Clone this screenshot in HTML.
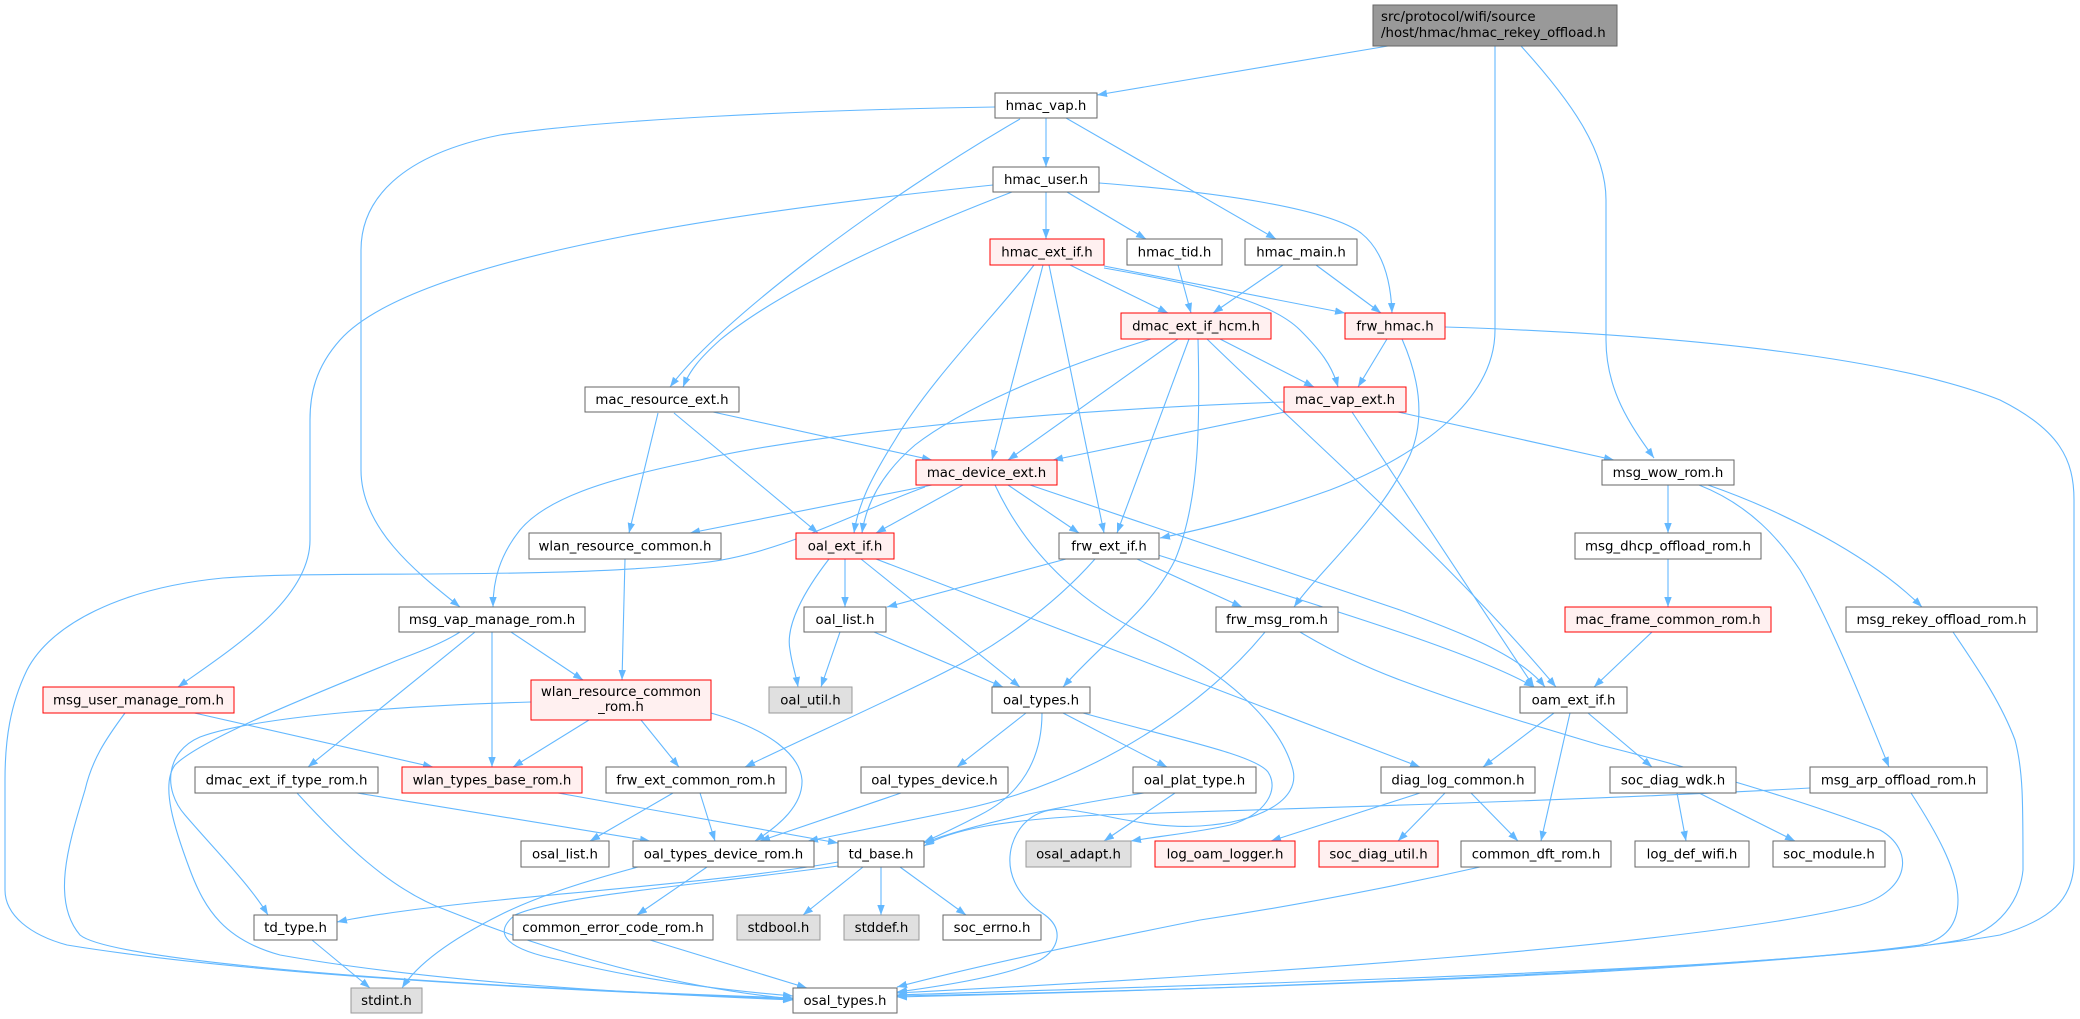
<!DOCTYPE html>
<html><head><meta charset="utf-8"><style>
html,body{margin:0;padding:0;background:#fff;}
svg{display:block;}
text{font-family:"DejaVu Sans","Liberation Sans",sans-serif;font-size:13.33px;fill:#000;}
.n{fill:#fff;stroke:#666;stroke-width:1;}
.r{fill:#fff0f0;stroke:#ff0000;stroke-width:1;}
.g{fill:#e0e0e0;stroke:#999;stroke-width:1;}
.t{fill:#999;stroke:#666;stroke-width:1;}
.e path{fill:none;stroke:#63b8ff;stroke-width:1.1;marker-end:url(#a);}
</style></head><body>
<svg width="2080" height="1019" viewBox="0 0 2080 1019" xmlns="http://www.w3.org/2000/svg">
<defs><marker id="a" markerWidth="11" markerHeight="8" refX="10" refY="4" orient="auto" markerUnits="userSpaceOnUse"><path d="M0,0.3 L10,4 L0,7.7 z" fill="#63b8ff" stroke="none"/></marker></defs>
<rect width="2080" height="1019" fill="#fff"/>
<g class="e">
<path d="M1388,46 L1097,95"/>
<path d="M1495,46 L1495,330 C1495,400 1420,455 1330,490 C1260,515 1200,530 1160,538"/>
<path d="M1521,46 C1570,100 1606,150 1606,200 L1606,340 C1606,390 1630,425 1654,458"/>
<path d="M1046,118 L1046,167"/>
<path d="M1066,118 L1276,239"/>
<path d="M1020,119 C880,200 720,320 670,387"/>
<path d="M995,107 C800,110 600,120 500,135 C400,155 361,200 361,250 L361,470 C361,530 420,575 460,607"/>
<path d="M1046,192 L1046,239"/>
<path d="M1067,192 L1146,239"/>
<path d="M1099,183 C1230,193 1330,210 1361,233 C1385,252 1391,285 1392,313"/>
<path d="M1012,192 C900,235 780,290 720,340 C700,358 690,370 683,387"/>
<path d="M993,185 C800,205 420,250 340,340 C315,368 310,395 310,420 L310,540 C310,600 230,650 178,687"/>
<path d="M1070,265 L1168,313"/>
<path d="M1104,266 L1345,313"/>
<path d="M1104,268 C1200,285 1270,300 1300,330 C1320,350 1332,365 1338,387"/>
<path d="M1043,265 L992,460"/>
<path d="M1049,265 L1104,533"/>
<path d="M1034,265 C1000,310 930,380 895,440 C870,480 858,505 854,533"/>
<path d="M1220,339 L1314,387"/>
<path d="M1178,339 L1008,460"/>
<path d="M1151,339 C1050,370 960,410 915,445 C880,475 866,505 862,533"/>
<path d="M1189,339 L1117,533"/>
<path d="M1198,339 C1200,420 1200,500 1175,560 C1150,610 1105,640 1063,687"/>
<path d="M1207,339 C1300,430 1450,560 1556,687"/>
<path d="M1285,412 L1053,460"/>
<path d="M1284,402 C1000,412 780,440 700,460 C600,480 545,500 520,530 C500,555 493,580 493,607"/>
<path d="M1398,412 L1614,460"/>
<path d="M1352,412 L1534,687"/>
<path d="M932,485 L690,533"/>
<path d="M963,485 L876,533"/>
<path d="M1008,485 L1079,533"/>
<path d="M1030,485 L1400,610 C1460,632 1520,655 1545,687"/>
<path d="M925,487 C860,510 780,555 700,563 C560,580 320,570 223,578 C120,588 50,625 27,670 C10,705 5,740 5,780 L5,890 C5,915 30,935 67,945 C250,975 550,990 793,999"/>
<path d="M995,485 C1030,560 1090,610 1157,640 C1220,670 1280,720 1293,770 C1300,800 1260,822 1200,826 C1150,829 1110,815 1070,810 C1040,806 1020,820 1012,845 C1005,870 1015,895 1045,915 C1065,930 1058,950 1040,960 C1010,975 950,985 897,992"/>
<path d="M1668,485 L1668,533"/>
<path d="M1708,485 C1780,510 1870,555 1922,607"/>
<path d="M1699,485 C1750,505 1780,540 1800,570 C1830,620 1870,720 1889,767"/>
<path d="M1668,559 L1668,607"/>
<path d="M1652,632 L1594,687"/>
<path d="M1953,632 C1975,665 2000,700 2015,740 C2023,770 2023,800 2023,870 C2020,900 2000,930 1960,940 C1800,970 1200,985 897,995"/>
<path d="M1445,327 C1700,335 1900,360 2000,400 C2060,430 2074,460 2074,500 L2074,860 C2074,900 2050,920 2000,935 C1800,970 1200,990 897,997"/>
<path d="M1387,339 L1358,387"/>
<path d="M1402,339 C1420,380 1425,420 1410,455 C1380,520 1320,570 1294,607"/>
<path d="M1178,265 L1191,313"/>
<path d="M1283,265 L1213,313"/>
<path d="M1316,265 L1381,313"/>
<path d="M713,412 L932,460"/>
<path d="M658,413 L629,533"/>
<path d="M674,413 L818,533"/>
<path d="M625,559 L622,680"/>
<path d="M845,559 L845,607"/>
<path d="M829,559 C805,590 785,625 790,650 C792,665 796,675 798,687"/>
<path d="M861,559 L1020,687"/>
<path d="M876,559 L1420,767"/>
<path d="M1066,559 L887,607"/>
<path d="M1137,559 L1242,607"/>
<path d="M1158,555 C1300,600 1470,650 1534,687"/>
<path d="M1095,559 C1050,610 990,650 945,672 C880,705 800,740 745,767"/>
<path d="M1265,632 C1210,700 1100,780 960,810 L808,841"/>
<path d="M1300,632 C1330,650 1360,665 1400,680 C1480,710 1550,730 1600,745 C1700,770 1800,800 1880,830 C1915,850 1910,890 1860,905 C1700,945 1250,975 897,993"/>
<path d="M840,632 L821,687"/>
<path d="M874,632 L1003,687"/>
<path d="M511,632 L583,680"/>
<path d="M492,632 L492,767"/>
<path d="M475,632 L308,767"/>
<path d="M460,632 C440,645 410,655 393,662 C300,700 200,740 175,765 C160,785 175,830 190,870 C205,910 225,940 280,955 C420,980 600,992 793,1000"/>
<path d="M589,720 L513,767"/>
<path d="M641,720 L679,767"/>
<path d="M531,702 C420,705 260,715 200,737 C165,752 163,790 185,815 C215,850 250,885 268,915"/>
<path d="M711,713 C770,730 800,755 802,780 C803,805 780,825 755,841"/>
<path d="M190,712 L433,767"/>
<path d="M125,713 C105,740 92,760 85,790 C70,840 50,900 80,935 C110,960 400,985 793,998"/>
<path d="M357,793 L650,841"/>
<path d="M297,793 C340,840 390,890 446,910 C520,940 650,985 793,999"/>
<path d="M558,793 L838,843"/>
<path d="M673,793 L590,841"/>
<path d="M700,793 L715,841"/>
<path d="M901,793 L760,841"/>
<path d="M1026,713 L957,767"/>
<path d="M1063,713 L1167,767"/>
<path d="M1042,713 C1042,760 1020,795 980,815 C955,828 940,835 924,842"/>
<path d="M1083,713 C1180,740 1255,755 1268,772 C1280,790 1265,815 1230,825 C1200,832 1160,836 1131,841"/>
<path d="M1175,793 L1104,841"/>
<path d="M1144,793 C1050,808 970,825 924,843"/>
<path d="M1810,788 C1600,800 1300,808 1100,815 C1000,820 950,830 924,846"/>
<path d="M838,862 C750,878 600,890 500,900 C420,908 370,915 337,922"/>
<path d="M838,866 C700,885 560,895 515,915 C490,935 510,950 560,960 C640,980 720,990 793,996"/>
<path d="M638,867 C590,880 540,895 500,915 C460,935 420,960 402,988"/>
<path d="M863,867 L803,915"/>
<path d="M881,867 L881,915"/>
<path d="M900,867 L966,915"/>
<path d="M312,940 L370,988"/>
<path d="M707,867 L637,915"/>
<path d="M650,940 L807,988"/>
<path d="M1480,867 C1400,885 1300,905 1200,920 C1100,940 980,965 897,987"/>
<path d="M1911,793 C1935,830 1958,870 1958,900 C1958,925 1945,940 1920,945 C1700,975 1200,990 897,996"/>
<path d="M1554,713 L1483,767"/>
<path d="M1570,713 L1541,841"/>
<path d="M1588,713 L1652,767"/>
<path d="M1420,793 L1271,841"/>
<path d="M1445,793 L1398,841"/>
<path d="M1471,793 L1518,841"/>
<path d="M1677,793 L1686,841"/>
<path d="M1699,793 L1795,841"/>
</g>
<g>
<rect class="t" x="1373" y="5" width="244" height="41"/>
<text x="1381" y="21">src/protocol/wifi/source</text>
<text x="1381" y="37">/host/hmac/hmac_rekey_offload.h</text>
</g>
<g text-anchor="middle">
<rect class="n" x="995" y="93" width="102" height="25"/><text x="1046" y="110">hmac_vap.h</text>
<rect class="n" x="993" y="167" width="106" height="25"/><text x="1046" y="184">hmac_user.h</text>
<rect class="r" x="990" y="239" width="114" height="26"/><text x="1047" y="256.5">hmac_ext_if.h</text>
<rect class="n" x="1127" y="239" width="95" height="26"/><text x="1174.5" y="256.5">hmac_tid.h</text>
<rect class="n" x="1245" y="239" width="112" height="26"/><text x="1301" y="256.5">hmac_main.h</text>
<rect class="r" x="1121" y="313" width="150" height="26"/><text x="1196" y="330.5">dmac_ext_if_hcm.h</text>
<rect class="r" x="1345" y="313" width="100" height="26"/><text x="1395" y="330.5">frw_hmac.h</text>
<rect class="n" x="585" y="387" width="154" height="25"/><text x="662" y="404">mac_resource_ext.h</text>
<rect class="r" x="1284" y="387" width="122" height="25"/><text x="1345" y="404">mac_vap_ext.h</text>
<rect class="r" x="916" y="460" width="141" height="25"/><text x="986.5" y="477">mac_device_ext.h</text>
<rect class="n" x="1602" y="460" width="132" height="25"/><text x="1668" y="477">msg_wow_rom.h</text>
<rect class="n" x="529" y="533" width="192" height="26"/><text x="625" y="550.5">wlan_resource_common.h</text>
<rect class="r" x="796" y="533" width="98" height="26"/><text x="845" y="550.5">oal_ext_if.h</text>
<rect class="n" x="1059" y="533" width="100" height="26"/><text x="1109" y="550.5">frw_ext_if.h</text>
<rect class="n" x="1575" y="533" width="186" height="26"/><text x="1668" y="550.5">msg_dhcp_offload_rom.h</text>
<rect class="n" x="399" y="607" width="186" height="25"/><text x="492" y="624">msg_vap_manage_rom.h</text>
<rect class="n" x="804" y="607" width="82" height="25"/><text x="845" y="624">oal_list.h</text>
<rect class="n" x="1216" y="607" width="122" height="25"/><text x="1277" y="624">frw_msg_rom.h</text>
<rect class="r" x="1565" y="607" width="206" height="25"/><text x="1668" y="624">mac_frame_common_rom.h</text>
<rect class="n" x="1846" y="607" width="191" height="25"/><text x="1941.5" y="624">msg_rekey_offload_rom.h</text>
<rect class="r" x="43" y="687" width="191" height="26"/><text x="138.5" y="704.5">msg_user_manage_rom.h</text>
<rect class="r" x="531" y="680" width="180" height="40"/><text x="621" y="696">wlan_resource_common</text><text x="621" y="711">_rom.h</text>
<rect class="g" x="769" y="687" width="83" height="26"/><text x="810.5" y="704.5">oal_util.h</text>
<rect class="n" x="992" y="687" width="98" height="26"/><text x="1041" y="704.5">oal_types.h</text>
<rect class="n" x="1520" y="687" width="107" height="26"/><text x="1573.5" y="704.5">oam_ext_if.h</text>
<rect class="n" x="195" y="767" width="183" height="26"/><text x="286.5" y="784.5">dmac_ext_if_type_rom.h</text>
<rect class="r" x="402" y="767" width="180" height="26"/><text x="492" y="784.5">wlan_types_base_rom.h</text>
<rect class="n" x="606" y="767" width="180" height="26"/><text x="696" y="784.5">frw_ext_common_rom.h</text>
<rect class="n" x="861" y="767" width="147" height="26"/><text x="934.5" y="784.5">oal_types_device.h</text>
<rect class="n" x="1133" y="767" width="123" height="26"/><text x="1194.5" y="784.5">oal_plat_type.h</text>
<rect class="n" x="1381" y="767" width="154" height="26"/><text x="1458" y="784.5">diag_log_common.h</text>
<rect class="n" x="1610" y="767" width="126" height="26"/><text x="1673" y="784.5">soc_diag_wdk.h</text>
<rect class="n" x="1810" y="767" width="177" height="26"/><text x="1898.5" y="784.5">msg_arp_offload_rom.h</text>
<rect class="n" x="521" y="841" width="88" height="26"/><text x="565" y="858.5">osal_list.h</text>
<rect class="n" x="633" y="841" width="181" height="26"/><text x="723.5" y="858.5">oal_types_device_rom.h</text>
<rect class="n" x="838" y="841" width="86" height="26"/><text x="881" y="858.5">td_base.h</text>
<rect class="g" x="1026" y="841" width="105" height="26"/><text x="1078.5" y="858.5">osal_adapt.h</text>
<rect class="r" x="1155" y="841" width="140" height="26"/><text x="1225" y="858.5">log_oam_logger.h</text>
<rect class="r" x="1319" y="841" width="119" height="26"/><text x="1378.5" y="858.5">soc_diag_util.h</text>
<rect class="n" x="1461" y="841" width="150" height="26"/><text x="1536" y="858.5">common_dft_rom.h</text>
<rect class="n" x="1635" y="841" width="114" height="26"/><text x="1692" y="858.5">log_def_wifi.h</text>
<rect class="n" x="1773" y="841" width="112" height="26"/><text x="1829" y="858.5">soc_module.h</text>
<rect class="n" x="254" y="915" width="83" height="25"/><text x="295.5" y="932">td_type.h</text>
<rect class="n" x="513" y="915" width="200" height="25"/><text x="613" y="932">common_error_code_rom.h</text>
<rect class="g" x="737" y="915" width="83" height="25"/><text x="778.5" y="932">stdbool.h</text>
<rect class="g" x="844" y="915" width="75" height="25"/><text x="881.5" y="932">stddef.h</text>
<rect class="n" x="943" y="915" width="98" height="25"/><text x="992" y="932">soc_errno.h</text>
<rect class="g" x="351" y="988" width="71" height="25"/><text x="386.5" y="1005">stdint.h</text>
<rect class="n" x="793" y="988" width="104" height="25"/><text x="845" y="1005">osal_types.h</text>
</g>
</svg>
</body></html>
